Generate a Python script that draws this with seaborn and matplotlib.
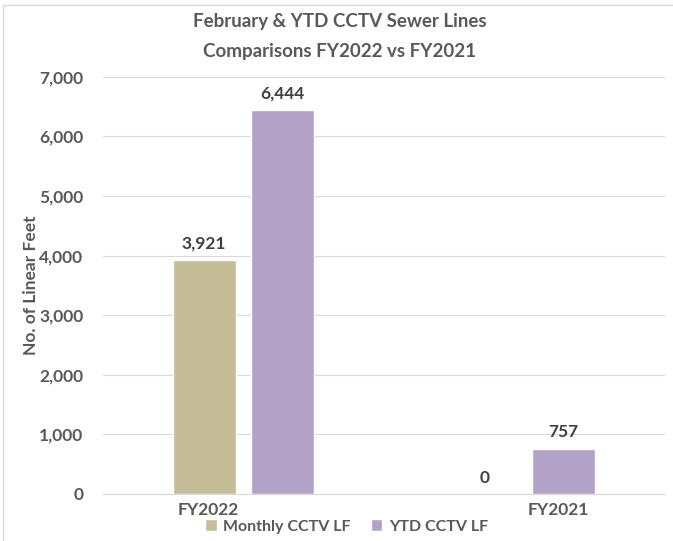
import seaborn as sns
import matplotlib.pyplot as plt
import pandas as pd
from matplotlib.patches import Rectangle

# Chart data
years = ['FY2022', 'FY2021']
monthly_lf = [3921, 0]
ytd_lf = [6444, 757]
series_names = ['Monthly CCTV LF', 'YTD CCTV LF']
colors = ['#C4BD97', '#B3A2C7']
title_lines = ['February & YTD CCTV Sewer Lines', 'Comparisons FY2022 vs FY2021']

df = pd.DataFrame({
    'year': years * 2,
    'series': [series_names[0]] * 2 + [series_names[1]] * 2,
    'lf': monthly_lf + ytd_lf,
})

sns.set_style('white')
plt.rcParams['font.family'] = ['Lato', 'DejaVu Sans']

fig = plt.figure(figsize=(6.73, 5.41), dpi=100)
ax = fig.add_axes([0.153, 0.087, 0.835, 0.771])

sns.barplot(data=df, x='year', y='lf', hue='series', order=years,
            hue_order=series_names, palette=colors, width=0.56, gap=0.2,
            saturation=1, ax=ax, legend=True)

# Data labels
for container in ax.containers:
    ax.bar_label(container, labels=[f'{v:,.0f}' for v in container.datavalues],
                 padding=6, fontsize=12.5, fontweight='bold', color='#404040')

ax.set_xlim(-0.5, 1.5)
ax.set_ylim(0, 7000)
ax.set_yticks(range(0, 7001, 1000))
ax.set_yticklabels([f'{v:,}' for v in range(0, 7001, 1000)],
                   fontsize=12.5, fontweight='bold', color='#595959')
ax.set_xticks([-0.125, 1.12])
ax.set_xticklabels(years, fontsize=12.5, fontweight='bold', color='#595959')
ax.tick_params(axis='y', length=0, pad=14)
ax.tick_params(axis='x', length=0, pad=6)
ax.grid(axis='y', color='#D9D9D9', linewidth=0.8)
ax.set_axisbelow(True)
for side in ['top', 'right', 'left']:
    ax.spines[side].set_visible(False)
ax.spines['bottom'].set_color('#D9D9D9')

ax.set_xlabel('')
ax.set_ylabel('')
fig.text(0.046, 0.472, 'No. of Linear Feet', rotation=90, ha='center', va='center',
         fontsize=12.5, fontweight='bold', color='#595959')

# Title, two lines
for i, line in enumerate(title_lines):
    fig.text(0.505, 1 - (22 + 30 * i) / 541, line, ha='center', va='center',
             fontsize=13.5, fontweight='bold', color='#595959')

ax.legend(loc='lower center', ncol=2, frameon=False, handlelength=0.7,
          handleheight=0.7, handletextpad=0.4, columnspacing=1.3,
          prop={'weight': 'bold', 'size': 11.5}, labelcolor='#595959')
ax.get_legend().set_bbox_to_anchor((0.515, -0.013), transform=fig.transFigure)

# Chart frame
fig.patches.append(Rectangle((3 / 673, -0.05), 1.1, 1.04, transform=fig.transFigure,
                             fill=False, edgecolor='#D9D9D9', linewidth=1))

fig.savefig('out.png', dpi=100)
plt.close()
